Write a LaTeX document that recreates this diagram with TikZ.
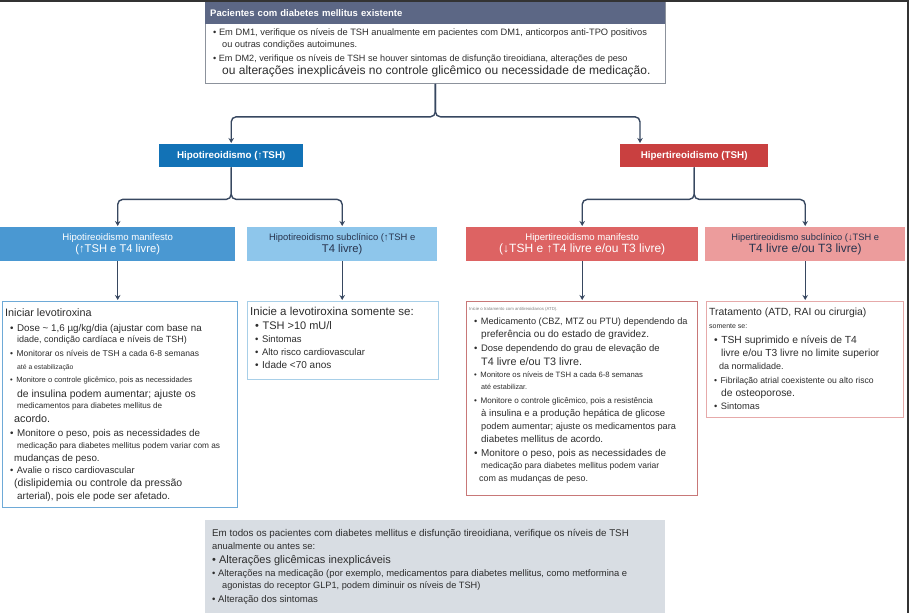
\documentclass[tikz,border=0pt]{standalone}
\usepackage{fontspec}
\setmainfont{Liberation Sans}
\usetikzlibrary{positioning}
\usetikzlibrary{calc}
\usetikzlibrary{arrows.meta}
\definecolor{slate}{RGB}{92,103,133}
\definecolor{framegray}{RGB}{140,146,156}
\definecolor{linecol}{RGB}{55,71,96}
\definecolor{txtgray}{RGB}{45,45,45}
\definecolor{navytxt}{RGB}{40,52,78}
\definecolor{hypoblue}{RGB}{18,114,182}
\definecolor{hypomid}{RGB}{74,152,210}
\definecolor{hypolight}{RGB}{142,198,235}
\definecolor{hyperred}{RGB}{201,64,64}
\definecolor{hypermid}{RGB}{221,99,99}
\definecolor{hyperlight}{RGB}{236,156,156}
\definecolor{bluefr}{RGB}{110,170,215}
\definecolor{lightbluefr}{RGB}{168,207,232}
\definecolor{redfr}{RGB}{200,120,120}
\definecolor{pinkfr}{RGB}{230,170,170}
\definecolor{footgray}{RGB}{216,221,227}
\newcommand\fs[1]{\fontsize{#1}{13}\selectfont}
\newcommand\itm{\hspace*{5pt}•\hspace{3.5pt}}
\newcommand\lnind{\hspace*{12pt}}

\begin{document}
\begin{tikzpicture}
    [x=1pt, y=-1pt,
    flow/.style={inner sep=0pt, anchor=north west},
    catbox/.style={flow, text=white, font=\bfseries\fs{9.8}, minimum height=23},
    subbox/.style={flow, align=center, minimum height=34, font=\fs{9.6}},
    notebox/.style={flow, draw, line width=0.8pt, fill=white},
    txt/.style={anchor=north west, inner sep=0pt, align=left, text=txtgray, font=\fs{9}},
    conn/.style={draw=linecol, line width=1.4pt, rounded corners=5pt, shorten >=1pt},
    >={Stealth[length=5pt,width=5.5pt]}]
    \useasboundingbox (0,0) rectangle (909,613);
    \fill[white] (0,0) rectangle (909,613);
    \fill[black!80] (0,0) rectangle (909,1.5);
    \fill[black!80] (907,0) rectangle (909,613);
    % top box
    \node[notebox, draw=framegray, minimum width=460, minimum height=81] (top) at (205,2) {};
    \node[flow, fill=slate, text=white, font=\bfseries\fs{9.5}, minimum height=22,
          text width=450, inner xsep=5pt, align=left] (hdr) at (205,2) {Pacientes com diabetes mellitus existente};
    \node[txt] (toptxt) at (213,28.5) {\fs{9.3}• Em DM1, verifique os níveis de TSH anualmente em pacientes com DM1, anticorpos anti-TPO positivos\\[-1pt]
        \fs{9.2}\hspace*{9pt}ou outras condições autoimunes.\\[1pt]
        \fs{9.1}• Em DM2, verifique os níveis de TSH se houver sintomas de disfunção tireoidiana, alterações de peso\\
        \fs{12}\hspace*{9pt}ou alterações inexplicáveis no controle glicêmico ou necessidade de medicação.};
    % first split
    \node[catbox, fill=hypoblue, minimum width=144] (hypo) at (159,144) {Hipotireoidismo (↑TSH)};
    \node[catbox, fill=hyperred, minimum width=148] (hyper) at (620,144) {Hipertireoidismo (TSH)};
    % second level
    \node[subbox, fill=hypomid, text=white, minimum width=235] (hypoman) at (0,227)
        {\fs{9.6}Hipotireoidismo manifesto\\[-1pt]\fs{11.2}(↑TSH e T4 livre)};
    \node[subbox, fill=hypolight, text=navytxt, minimum width=190] (hyposub) at (247,227)
        {\fs{9.4}Hipotireoidismo subclínico (↑TSH e\\[-1pt]\fs{11.2}T4 livre)};
    \node[subbox, fill=hypermid, text=white, minimum width=232] (hyperman) at (466,227)
        {\fs{9.6}Hipertireoidismo manifesto\\[-1pt]\fs{12}(↓TSH e ↑T4 livre e/ou T3 livre)};
    \node[subbox, fill=hyperlight, text=navytxt, minimum width=200] (hypersub) at (705,227)
        {\fs{9.3}Hipertireoidismo subclínico (↓TSH e\\[-1pt]\fs{12}T4 livre e/ou T3 livre)};
    % treatment boxes
    \node[notebox, draw=bluefr, minimum width=235, minimum height=206] (levo) at (2,301) {};
    \node[notebox, draw=lightbluefr, minimum width=191, minimum height=78] (levosub) at (247,301) {};
    \node[notebox, draw=redfr, minimum width=231, minimum height=194] (atd) at (466,301) {};
    \node[notebox, draw=pinkfr, minimum width=197, minimum height=116] (atdsub) at (706,301) {};
    \node[flow, fill=footgray, minimum width=460, minimum height=93] (foot) at (205,520) {};
    \node[txt] (levotxt) at (5,308) {\fs{10.8}Iniciar levotiroxina\\[2pt]
        \fs{9.8}\itm Dose \textasciitilde{} 1,6 µg/kg/dia (ajustar com base na\\[-2pt]
        \fs{9}\lnind idade, condição cardíaca e níveis de TSH)\\[1pt]
        \fs{8.5}\itm Monitorar os níveis de TSH a cada 6-8 semanas\\
        \fs{6.8}\lnind até a estabilização\\
        \fs{7.6}\itm Monitore o controle glicêmico, pois as necessidades\\[2pt]
        \fs{10.4}\lnind de insulina podem aumentar; ajuste os\\[-2pt]
        \fs{8.1}\lnind medicamentos para diabetes mellitus de\\[1pt]
        \fs{10.8}\hspace*{9pt}acordo.\\[1pt]
        \fs{9.8}\itm Monitore o peso, pois as necessidades de\\[-1pt]
        \fs{8.3}\lnind medicação para diabetes mellitus podem variar com as\\
        \fs{9.8}\hspace*{9pt}mudanças de peso.\\[-1pt]
        \fs{9.3}\itm Avalie o risco cardiovascular\\
        \fs{10.5}\hspace*{9pt}(dislipidemia ou controle da pressão\\
        \fs{9.9}\lnind arterial), pois ele pode ser afetado.};
    \node[txt] (levosubtxt) at (250,307) {\fs{11.5}Inicie a levotiroxina somente se:\\[1pt]
        \fs{11}\itm TSH >10 mU/l\\
        \fs{9.5}\itm Sintomas\\
        \fs{9.5}\itm Alto risco cardiovascular\\
        \fs{10}\itm Idade <70 anos};
    \node[txt] (atdtxt) at (469,307) {{\fs{4.3}\color{gray}Inicie o tratamento com antitireoidianos (ATD).}\\[1pt]
        \fs{9.2}\itm Medicamento (CBZ, MTZ ou PTU) dependendo da\\
        \fs{10}\lnind preferência ou do estado de gravidez.\\[1pt]
        \fs{9.45}\itm Dose dependendo do grau de elevação de\\[1pt]
        \fs{10.8}\lnind T4 livre e/ou T3 livre.\\[-1pt]
        \fs{7.7}\itm Monitore os níveis de TSH a cada 6-8 semanas\\[-1pt]
        \fs{7.2}\lnind até estabilizar.\\[1pt]
        \fs{8.1}\itm Monitore o controle glicêmico, pois a resistência\\
        \fs{9.6}\lnind à insulina e a produção hepática de glicose\\
        \fs{9.2}\lnind podem aumentar; ajuste os medicamentos para\\
        \fs{9.8}\lnind diabetes mellitus de acordo.\\[1pt]
        \fs{9.9}\itm Monitore o peso, pois as necessidades de\\[-1pt]
        \fs{8.5}\lnind medicação para diabetes mellitus podem variar\\
        \fs{8.9}\hspace*{10pt}com as mudanças de peso.};
    \node[txt] (atdsubtxt) at (709,308) {\fs{10.4}Tratamento (ATD, RAI ou cirurgia)\\
        \fs{7}somente se:\\[2pt]
        \fs{10.3}\itm TSH suprimido e níveis de T4\\
        \fs{10.2}\lnind livre e/ou T3 livre no limite superior\\
        \fs{9}\hspace*{10pt}da normalidade.\\[1pt]
        \fs{8.6}\itm Fibrilação atrial coexistente ou alto risco\\
        \fs{10.3}\lnind de osteoporose.\\
        \fs{9.3}\itm Sintomas};
    \node[txt] (foottxt) at (212,529.5) {\fs{9.8}Em todos os pacientes com diabetes mellitus e disfunção tireoidiana, verifique os níveis de TSH\\
        \fs{9.4}anualmente ou antes se:\\[1pt]
        \fs{11}• Alterações glicêmicas inexplicáveis\\
        \fs{9.4}• Alterações na medicação (por exemplo, medicamentos para diabetes mellitus, como metformina e\\[-1pt]
        \fs{9.2}\hspace*{10pt}agonistas do receptor GLP1, podem diminuir os níveis de TSH)\\[1pt]
        \fs{9.6}• Alteração dos sintomas};
    % connectors
    \coordinate (j0) at ($(top.south)+(0,33)$);
    \coordinate (j1) at ($(hypo.south)+(0,32)$);
    \coordinate (j2) at ($(hyper.south)+(0,32)$);
    \draw[conn, ->] (top.south) -- (j0) -| (hypo.north);
    \draw[conn, ->] (top.south) -- (j0) -| ([xshift=20]hyper.north west);
    \draw[conn, ->] (hypo.south) -- (j1) -| (hypoman.north);
    \draw[conn, ->] (hypo.south) -- (j1) -| (hyposub.north);
    \draw[conn, ->] (hyper.south) -- (j2) -| (hyperman.north);
    \draw[conn, ->] (hyper.south) -- (j2) -| (hypersub.north);
    \draw[conn, ->] (hypoman.south) -- (hypoman.south |- levo.north);
    \draw[conn, ->] (hyposub.south) -- (hyposub.south |- levosub.north);
    \draw[conn, ->] (hyperman.south) -- (hyperman.south |- atd.north);
    \draw[conn, ->] (hypersub.south) -- (hypersub.south |- atdsub.north);
\end{tikzpicture}
\end{document}
